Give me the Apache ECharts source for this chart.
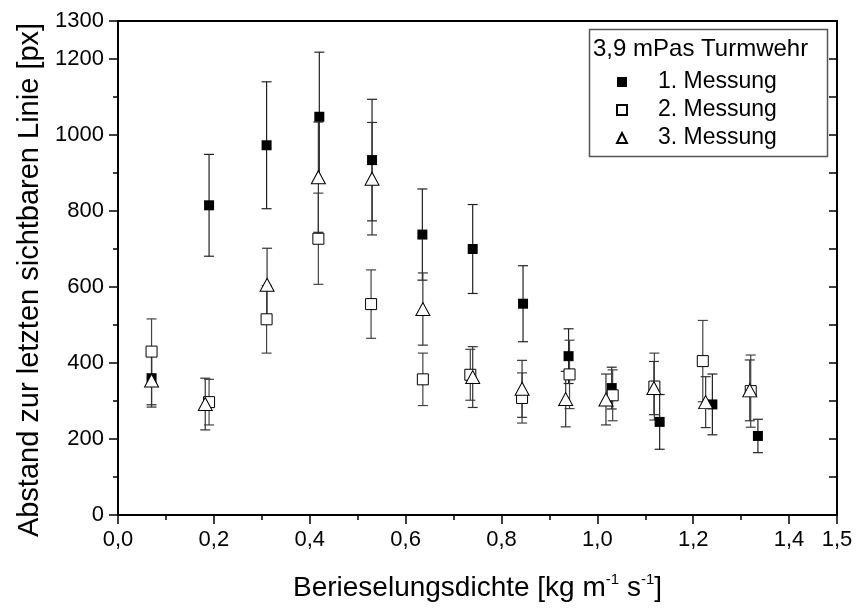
<!DOCTYPE html>
<html>
<head>
<meta charset="utf-8">
<title>Abstand zur letzten sichtbaren Linie</title>
<script src="https://cdn.jsdelivr.net/npm/echarts@6/dist/echarts.min.js"></script>
<style>
  html, body { margin: 0; padding: 0; background: #fff; }
  #chart { width: 857px; height: 609px; }
</style>
</head>
<body>
<div id="chart"></div>
<script>
// Berieselungsdichte [kg m^-1 s^-1] and mean distance [px] with standard deviation
const meas1X   = [0.07, 0.19, 0.31, 0.42, 0.53, 0.635, 0.74, 0.845, 0.94, 1.03, 1.13, 1.24, 1.335];
const meas1Y   = [360, 815, 973, 1048, 934, 738, 700, 556, 418, 334, 245, 291, 208];
const meas1Err = [70, 134, 167, 170, 160, 120, 117, 100, 72, 55, 72, 80, 44];

const meas2X   = [0.07, 0.19, 0.31, 0.418, 0.528, 0.636, 0.735, 0.843, 0.942, 1.032, 1.119, 1.22, 1.32];
const meas2Y   = [430, 297, 515, 727, 555, 357, 369, 308, 370, 315, 338, 405, 326];
const meas2Err = [86, 60, 89, 120, 90, 69, 67, 66, 90, 67, 88, 107, 95];

const meas3X   = [0.07, 0.182, 0.311, 0.418, 0.53, 0.636, 0.74, 0.843, 0.934, 1.018, 1.118, 1.226, 1.318];
const meas3Y   = [354, 292, 606, 889, 885, 542, 363, 332, 305, 304, 334, 297, 328];
const meas3Err = [70, 68, 96, 145, 148, 95, 80, 75, 73, 67, 70, 67, 80];

const seriesNames = ['1. Messung', '2. Messung', '3. Messung'];
const legendTitle = '3,9 mPas Turmwehr';
const xTitle = 'Berieselungsdichte [kg m{sup|-1} s{sup|-1}]';
const yTitle = 'Abstand zur letzten sichtbaren Linie [px]';

const FONT = "'Liberation Sans', Arial, sans-serif";

function points(xs, ys) {
  return xs.map((x, i) => [x, ys[i]]);
}
function errorRows(xs, ys, es) {
  return xs.map((x, i) => [x, ys[i], es[i]]);
}

// vertical error bar with short caps at both ends
function errorBar(color) {
  return function (params, api) {
    const x = api.value(0), y = api.value(1), e = api.value(2);
    const top = api.coord([x, y + e]);
    const bot = api.coord([x, y - e]);
    const w = 5;
    const style = { stroke: color, lineWidth: 1.2 };
    return {
      type: 'group',
      children: [
        { type: 'line', shape: { x1: top[0], y1: top[1], x2: bot[0], y2: bot[1] }, style: style },
        { type: 'line', shape: { x1: top[0] - w, y1: top[1], x2: top[0] + w, y2: top[1] }, style: style },
        { type: 'line', shape: { x1: bot[0] - w, y1: bot[1], x2: bot[0] + w, y2: bot[1] }, style: style }
      ]
    };
  };
}

const commaFmt = v => v.toFixed(1).replace('.', ',');
const plainFmt = v => String(v);
const axisLineStyle = { color: '#000', width: 2 };
const tickStyle = { color: '#000', width: 1.5 };

const chart = echarts.init(document.getElementById('chart'), null, { renderer: 'canvas' });

chart.setOption({
  animation: false,
  backgroundColor: '#fff',
  textStyle: { fontFamily: FONT },
  grid: {
    left: 118, right: 20, top: 21, bottom: 92,
    show: true, borderColor: '#000', borderWidth: 2, backgroundColor: 'transparent'
  },
  xAxis: [
    {
      type: 'value', min: 0, max: 1.5, interval: 0.1, position: 'bottom',
      axisLine: { show: true, lineStyle: axisLineStyle },
      axisTick: { show: true, length: 5, lineStyle: tickStyle },
      axisLabel: { show: false },
      splitLine: { show: false },
      name: xTitle, nameLocation: 'middle', nameGap: 57,
      nameTextStyle: {
        color: '#000', fontFamily: FONT, fontSize: 28, lineHeight: 32,
        rich: {
          sup: { fontSize: 15, fontFamily: FONT, color: '#000', verticalAlign: 'top', lineHeight: 18 }
        }
      }
    },
    {
      type: 'value', min: 0, max: 1.5, interval: 0.2, position: 'bottom',
      axisLine: { show: false },
      axisTick: { show: true, length: 9, lineStyle: tickStyle },
      axisLabel: { show: true, formatter: commaFmt, color: '#000', fontSize: 22, fontFamily: FONT, margin: 14, showMaxLabel: true, showMinLabel: true },
      splitLine: { show: false }
    }
  ],
  yAxis: [
    {
      type: 'value', min: 0, max: 1300, interval: 100, position: 'left',
      axisLine: { show: true, lineStyle: axisLineStyle },
      axisTick: { show: true, length: 5, lineStyle: tickStyle },
      axisLabel: { show: false },
      splitLine: { show: false },
      name: yTitle, nameLocation: 'middle', nameGap: 74, nameRotate: 90,
      nameTextStyle: { color: '#000', fontFamily: FONT, fontSize: 29, padding: [0, 24, 0, 0] }
    },
    {
      type: 'value', min: 0, max: 1300, interval: 200, position: 'left',
      axisLine: { show: false },
      axisTick: { show: true, length: 9, lineStyle: tickStyle },
      axisLabel: { show: true, formatter: plainFmt, color: '#000', fontSize: 22, fontFamily: FONT, margin: 14, showMaxLabel: true },
      splitLine: { show: false }
    },
    {
      type: 'value', min: 0, max: 1300, interval: 100, position: 'right',
      axisLine: { show: true, lineStyle: axisLineStyle },
      axisTick: { show: true, inside: true, length: 8, lineStyle: tickStyle },
      axisLabel: { show: false },
      splitLine: { show: false }
    }
  ],
  legend: {
    data: seriesNames,
    orient: 'vertical',
    left: 611, top: 65,
    itemWidth: 10, itemHeight: 10, itemGap: 4,
    selectedMode: false,
    textStyle: { color: '#000', fontSize: 23, fontFamily: FONT, lineHeight: 24, padding: [0, 0, 0, 26] }
  },
  graphic: [
    {
      type: 'rect', left: 587, top: 27, z: 10,
      shape: { width: 238, height: 127 },
      style: { fill: 'none', stroke: '#555', lineWidth: 1.5 }
    },
    {
      type: 'text', left: 593, top: 37, z: 10,
      style: { text: legendTitle, fill: '#000', font: '24px ' + FONT }
    }
  ],
  series: [
    { type: 'custom', name: 'err1', data: errorRows(meas1X, meas1Y, meas1Err), renderItem: errorBar('#222'), encode: { x: 0, y: 1 }, z: 1, silent: true },
    { type: 'custom', name: 'err2', data: errorRows(meas2X, meas2Y, meas2Err), renderItem: errorBar('#444'), encode: { x: 0, y: 1 }, z: 1, silent: true },
    { type: 'custom', name: 'err3', data: errorRows(meas3X, meas3Y, meas3Err), renderItem: errorBar('#333'), encode: { x: 0, y: 1 }, z: 1, silent: true },
    {
      type: 'scatter', name: seriesNames[0], data: points(meas1X, meas1Y), z: 3,
      symbol: 'rect', symbolSize: 10,
      itemStyle: { color: '#000', opacity: 1 }
    },
    {
      type: 'scatter', name: seriesNames[1], data: points(meas2X, meas2Y), z: 3,
      symbol: 'rect', symbolSize: 11,
      itemStyle: { color: '#fff', borderColor: '#000', borderWidth: 1, opacity: 1 }
    },
    {
      type: 'scatter', name: seriesNames[2], data: points(meas3X, meas3Y), z: 3,
      symbol: 'triangle', symbolSize: [14, 13],
      itemStyle: { color: '#fff', borderColor: '#000', borderWidth: 1, opacity: 1 }
    }
  ]
});
</script>
</body>
</html>
